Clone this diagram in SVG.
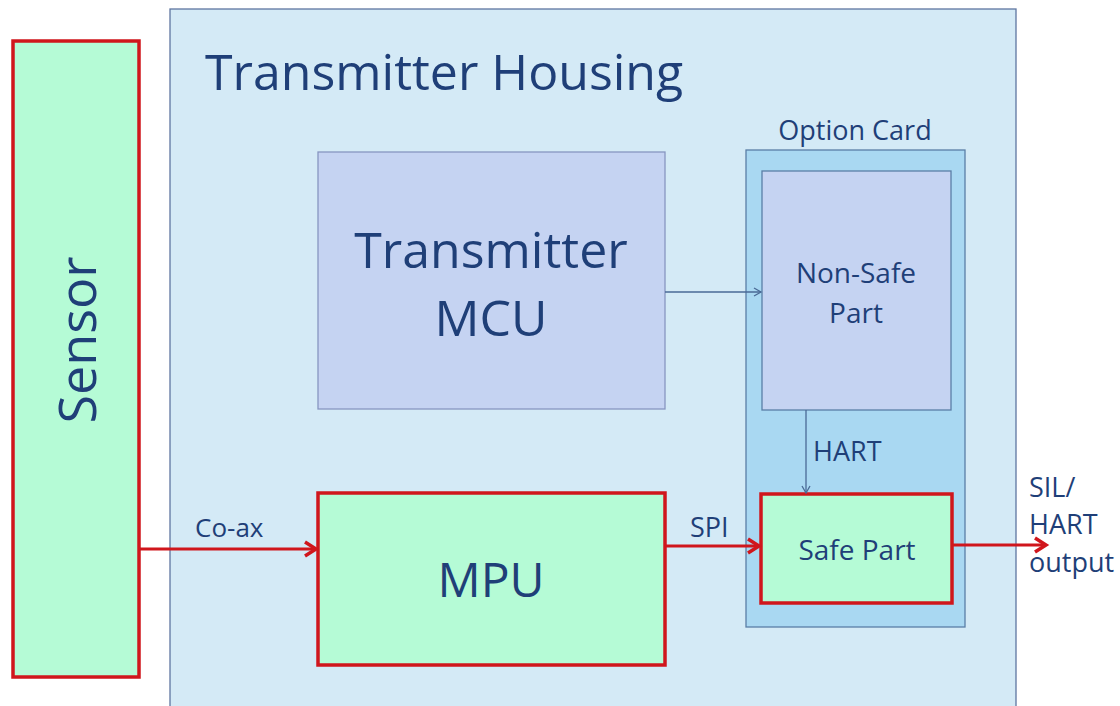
<svg xmlns="http://www.w3.org/2000/svg" width="1120" height="706" viewBox="0 0 1120 706">
<style>
text{font-family:"Open Sans","Noto Sans","DejaVu Sans",sans-serif;fill:#1f3f78}
.green{fill:#b5fbd6;stroke:#d0161c;stroke-width:3.5}
.thin{stroke:#4a6a96;stroke-width:1.3;fill:none}
.red{stroke:#d0161c;stroke-width:3;fill:none}
</style>
<defs>
<marker id="ar" markerWidth="10" markerHeight="10" refX="8" refY="5" orient="auto" markerUnits="userSpaceOnUse"><path d="M1,1 L8,5 L1,9" fill="none" stroke="#4a6a96" stroke-width="1.3"/></marker>
<marker id="rr" markerWidth="18" markerHeight="18" refX="14" refY="9" orient="auto" markerUnits="userSpaceOnUse"><path d="M3,2 L14,9 L3,16" fill="none" stroke="#d0161c" stroke-width="3.5"/></marker>
</defs>
<rect width="1120" height="706" fill="#ffffff"/>
<g id="housing">
<rect x="170" y="9" width="846" height="720" fill="#d4eaf6" stroke="#5f76a0" stroke-width="1.3"/>
<text x="205" y="90" font-size="50">Transmitter Housing</text>
</g>
<g id="sensor">
<rect class="green" x="13" y="41" width="126" height="636"/>
<text transform="translate(96,340) rotate(-90)" text-anchor="middle" font-size="52">Sensor</text>
</g>
<g id="mcu">
<rect x="318" y="152" width="347" height="257" fill="#c5d3f2" stroke="#8796c0" stroke-width="1.3"/>
<text x="491" y="268" text-anchor="middle" font-size="50">Transmitter</text>
<text x="491" y="336" text-anchor="middle" font-size="50">MCU</text>
</g>
<g id="optioncard">
<rect x="746" y="150" width="219" height="477" fill="#a9d8f2" stroke="#5a7ea6" stroke-width="1.3"/>
<text x="855" y="140" text-anchor="middle" font-size="27">Option Card</text>
</g>
<g id="nonsafe">
<rect x="762" y="171" width="189" height="239" fill="#c5d3f2" stroke="#5a7ea6" stroke-width="1.3"/>
<text x="856" y="283" text-anchor="middle" font-size="28">Non-Safe</text>
<text x="856" y="323" text-anchor="middle" font-size="28">Part</text>
</g>
<g id="safe">
<rect class="green" x="761" y="494" width="191" height="109"/>
<text x="857" y="560" text-anchor="middle" font-size="28">Safe Part</text>
</g>
<g id="mpu">
<rect class="green" x="318" y="493" width="347" height="172"/>
<text x="491" y="597" text-anchor="middle" font-size="48">MPU</text>
</g>
<g id="connectors">
<line class="thin" x1="665" y1="292" x2="761" y2="292" marker-end="url(#ar)"/>
<line class="thin" x1="806" y1="410" x2="806" y2="493" marker-end="url(#ar)"/>
<line class="red" x1="139" y1="549" x2="316" y2="549" marker-end="url(#rr)"/>
<line class="red" x1="665" y1="546" x2="759" y2="546" marker-end="url(#rr)"/>
<line class="red" x1="952" y1="545" x2="1046" y2="545" marker-end="url(#rr)"/>
</g>
<g id="labels">
<text x="195" y="537" font-size="26">Co-ax</text>
<text x="690" y="537" font-size="27">SPI</text>
<text x="813" y="461" font-size="27">HART</text>
<text x="1029" y="497" font-size="27">SIL/</text>
<text x="1029" y="534" font-size="27">HART</text>
<text x="1029" y="572" font-size="27">output</text>
</g>
</svg>
